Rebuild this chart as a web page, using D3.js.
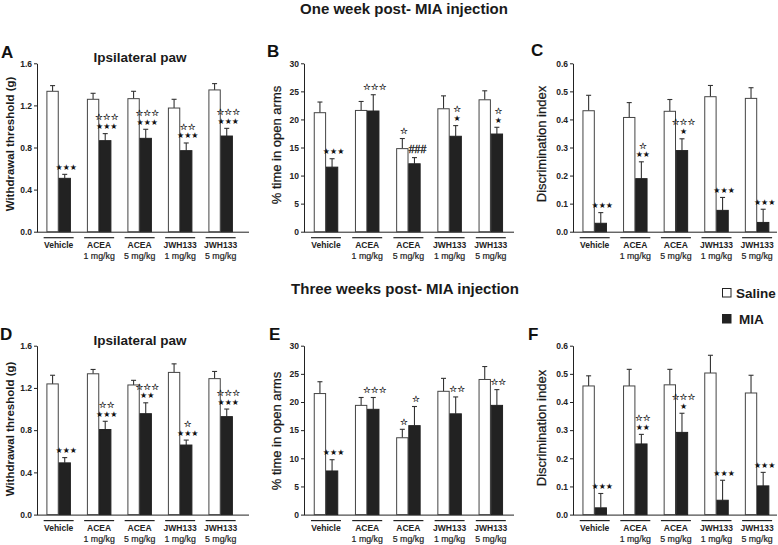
<!DOCTYPE html>
<html><head><meta charset="utf-8">
<script src="https://cdn.jsdelivr.net/npm/d3@7"></script>
<style>body{margin:0;background:#fff} svg{display:block;font-family:Arial,"Liberation Sans",sans-serif}</style>
</head><body><svg id="chart" width="778" height="545"></svg>
<script>
// ---------- data ----------
const groups = ["Vehicle","ACEA 1","ACEA 5","JWH133 1","JWH133 5"];
const groupLine1 = ["Vehicle","ACEA","ACEA","JWH133","JWH133"];
const groupLine2 = ["","1 mg/kg","5 mg/kg","1 mg/kg","5 mg/kg"];
const series = ["Saline","MIA"];
const sectionTitles = ["One week post- MIA injection","Three weeks post- MIA injection"];

// A: One week, withdrawal threshold (g)
const aSaline = [1.334,1.258,1.264,1.175,1.347];
const aSalineErr = [0.054,0.057,0.070,0.083,0.060];
const aMIA = [0.507,0.865,0.887,0.770,0.909];
const aMIAErr = [0.038,0.067,0.086,0.073,0.073];
// B: One week, % time in open arms
const bSaline = [21.2,21.6,14.8,21.9,23.5];
const bSalineErr = [1.9,1.6,1.8,2.3,1.6];
const bMIA = [11.5,21.5,12.1,17.0,17.4];
const bMIAErr = [1.5,2.9,1.1,1.9,1.2];
// C: One week, discrimination index
const cSaline = [0.431,0.407,0.429,0.481,0.475];
const cSalineErr = [0.055,0.053,0.042,0.040,0.038];
const cMIA = [0.030,0.189,0.289,0.076,0.033];
const cMIAErr = [0.038,0.060,0.042,0.046,0.047];
// D: Three weeks, withdrawal threshold (g)
const dSaline = [1.238,1.334,1.228,1.347,1.288];
const dSalineErr = [0.082,0.041,0.044,0.081,0.068];
const dMIA = [0.490,0.806,0.956,0.659,0.928];
const dMIAErr = [0.050,0.078,0.103,0.047,0.072];
// E: Three weeks, % time in open arms
const eSaline = [21.5,19.4,13.65,21.9,24.0];
const eSalineErr = [2.1,1.4,1.5,2.3,2.3];
const eMIA = [7.75,18.7,15.8,17.9,19.4];
const eMIAErr = [2.0,2.1,3.4,3.0,2.8];
// F: Three weeks, discrimination index
const fSaline = [0.457,0.457,0.461,0.503,0.432];
const fSalineErr = [0.036,0.059,0.055,0.063,0.063];
const fMIA = [0.024,0.251,0.292,0.051,0.102];
const fMIAErr = [0.051,0.034,0.068,0.071,0.048];

// tick labels
const ticksPaw = [0,0.4,0.8,1.2,1.6];
const ticksArms = [0,5,10,15,20,25,30];
const ticksDI = [0,0.1,0.2,0.3,0.4,0.5,0.6];

// significance marks (rows listed bottom to top)
const aNotes = [[0,"MIA",["★★★"]],[1,"MIA",["★★★","☆☆☆"]],[2,"MIA",["★★★","☆☆☆"]],[3,"MIA",["★★★","☆☆"]],[4,"MIA",["★★★","☆☆☆"]]];
const bNotes = [[0,"MIA",["★★★"]],[1,"MIA",["☆☆☆"]],[2,"Saline",["☆"]],[2,"MIA",["###"]],[3,"MIA",["★","☆"]],[4,"MIA",["★","☆"]]];
const cNotes = [[0,"MIA",["★★★"]],[1,"MIA",["★★","☆"]],[2,"MIA",["★","☆☆☆"]],[3,"MIA",["★★★"]],[4,"MIA",["★★★"]]];
const dNotes = [[0,"MIA",["★★★"]],[1,"MIA",["★★★","☆☆"]],[2,"MIA",["★★","☆☆☆"]],[3,"MIA",["★★★","☆"]],[4,"MIA",["★★★","☆☆☆"]]];
const eNotes = [[0,"MIA",["★★★"]],[1,"MIA",["☆☆☆"]],[2,"Saline",["☆"]],[2,"MIA",["☆"]],[3,"MIA",["☆☆"]],[4,"MIA",["☆☆"]]];
const fNotes = [[0,"MIA",["★★★"]],[1,"MIA",["★★","☆☆"]],[2,"MIA",["★","☆☆☆"]],[3,"MIA",["★★★"]],[4,"MIA",["★★★"]]];

// ---------- drawing ----------
const svg = d3.select("#chart");
svg.append("rect").attr("width",778).attr("height",545).attr("fill","#fff");

svg.append("text").attr("x",404).attr("y",13.5).attr("text-anchor","middle")
  .attr("font-size",15).attr("font-weight","bold").attr("fill","#1a1a1a").text(sectionTitles[0]);
svg.append("text").attr("x",405).attr("y",294).attr("text-anchor","middle")
  .attr("font-size",15).attr("font-weight","bold").attr("fill","#1a1a1a").text(sectionTitles[1]);

const TOP = [63.3, 231.7], BOT = [345.7, 514.6];

const panels = [
  {letter:"A", lx:1, ly:58, x0:37, step:40.5, xEnd:249, yr:TOP, max:1.6, ticks:ticksPaw, fmt:d3.format(".1f"),
   sal:aSaline, salE:aSalineErr, mia:aMIA, miaE:aMIAErr, notes:aNotes,
   ylab:"Withdrawal threshold (g)", ylx:10, yly:144, ybold:true, sub:"Ipsilateral paw", subx:140, suby:62},
  {letter:"B", lx:267, ly:56.7, x0:304, step:41.2, xEnd:514, yr:TOP, max:30, ticks:ticksArms, fmt:d3.format("d"),
   sal:bSaline, salE:bSalineErr, mia:bMIA, miaE:bMIAErr, notes:bNotes,
   ylab:"% time in open arms", ylx:276, yly:145, ybold:false},
  {letter:"C", lx:531, ly:56, x0:573, step:40.6, xEnd:777, yr:TOP, max:0.6, ticks:ticksDI, fmt:d3.format(".1f"),
   sal:cSaline, salE:cSalineErr, mia:cMIA, miaE:cMIAErr, notes:cNotes,
   ylab:"Discrimination index", ylx:541, yly:144, ybold:false},
  {letter:"D", lx:0, ly:340, x0:37, step:40.5, xEnd:249, yr:BOT, max:1.6, ticks:ticksPaw, fmt:d3.format(".1f"),
   sal:dSaline, salE:dSalineErr, mia:dMIA, miaE:dMIAErr, notes:dNotes,
   ylab:"Withdrawal threshold (g)", ylx:10, yly:429, ybold:true, sub:"Ipsilateral paw", subx:140, suby:345},
  {letter:"E", lx:269, ly:339.5, x0:304, step:41.2, xEnd:514, yr:BOT, max:30, ticks:ticksArms, fmt:d3.format("d"),
   sal:eSaline, salE:eSalineErr, mia:eMIA, miaE:eMIAErr, notes:eNotes,
   ylab:"% time in open arms", ylx:276, yly:431, ybold:false},
  {letter:"F", lx:528, ly:339.5, x0:573, step:40.6, xEnd:777, yr:BOT, max:0.6, ticks:ticksDI, fmt:d3.format(".1f"),
   sal:fSaline, salE:fSalineErr, mia:fMIA, miaE:fMIAErr, notes:fNotes,
   ylab:"Discrimination index", ylx:541, yly:428, ybold:false}
];

panels.forEach(p => {
  const g = svg.append("g");
  const y = d3.scaleLinear().domain([0,p.max]).range([p.yr[1], p.yr[0]]);
  const x = d3.scaleBand().domain(groups).range([p.x0+1.4, p.x0+1.4+5*p.step]).paddingInner(0).paddingOuter(0);
  const xs = d3.scaleBand().domain(series).range([-11.75, 11.75]).paddingInner(0.065);
  const cx = gname => x(gname) + x.bandwidth()/2;

  // letter
  g.append("text").attr("x",p.lx).attr("y",p.ly).attr("font-size",17).attr("font-weight","bold")
    .attr("fill","#111").text(p.letter);

  // y axis
  const ya = g.append("g").attr("transform",`translate(${p.x0},0)`)
    .call(d3.axisLeft(y).tickValues(p.ticks).tickFormat(p.fmt).tickSize(3).tickSizeOuter(0));
  ya.select(".domain").attr("stroke","#222");
  ya.selectAll(".tick line").attr("stroke","#222");
  ya.selectAll(".tick text").attr("font-size",8.5).attr("font-weight","bold").attr("fill","#222")
    .attr("font-family","Arial,'Liberation Sans',sans-serif").attr("x",-5);

  // x axis line
  g.append("path").attr("d",d3.line()([[p.x0,y(0)+0.5],[p.xEnd,y(0)+0.5]])).attr("stroke","#222").attr("fill","none");

  // y label
  g.append("text").attr("transform",`translate(${p.ylx},${p.yly}) rotate(-90)`).attr("text-anchor","middle")
    .attr("dominant-baseline","central").attr("font-size",p.ybold?11.5:13).attr("font-weight",p.ybold?"bold":"normal")
    .attr("fill","#1a1a1a").attr("stroke",p.ybold?"none":"#1a1a1a").attr("stroke-width",0.25).text(p.ylab);

  if (p.sub) g.append("text").attr("x",p.subx).attr("y",p.suby).attr("text-anchor","middle")
    .attr("font-size",13.5).attr("font-weight","bold").attr("fill","#1a1a1a").text(p.sub);

  // group labels and underlines
  groups.forEach((gn,i) => {
    const c = cx(gn);
    g.append("line").attr("x1",c-15).attr("x2",c+15).attr("y1",y(0)+6).attr("y2",y(0)+6).attr("stroke","#222").attr("stroke-width",1.2);
    g.append("text").attr("x",c).attr("y",y(0)+16.5).attr("text-anchor","middle").attr("font-size",8.5)
      .attr("font-weight","bold").attr("fill","#222").text(groupLine1[i]);
    if (groupLine2[i]) g.append("text").attr("x",c).attr("y",y(0)+27.5).attr("text-anchor","middle").attr("font-size",8.8)
      .attr("fill","#222").attr("stroke","#222").attr("stroke-width",0.2).text(groupLine2[i]);
  });

  // bars + error bars
  const rows = [];
  groups.forEach((gn,i) => {
    rows.push({g:gn, s:"Saline", v:p.sal[i], e:p.salE[i]});
    rows.push({g:gn, s:"MIA", v:p.mia[i], e:p.miaE[i]});
  });
  const bx = r => cx(r.g) + xs(r.s);
  rows.forEach(r => {
    const xm = bx(r) + xs.bandwidth()/2;
    g.append("line").attr("x1",xm).attr("x2",xm).attr("y1",y(r.v)).attr("y2",y(r.v+r.e)).attr("stroke","#333").attr("stroke-width",1.1);
    g.append("line").attr("x1",xm-2.5).attr("x2",xm+2.5).attr("y1",y(r.v+r.e)).attr("y2",y(r.v+r.e)).attr("stroke","#333").attr("stroke-width",1.1);
  });
  g.selectAll("rect.bar").data(rows).join("rect").attr("class","bar")
    .attr("x", r => bx(r)).attr("width", xs.bandwidth())
    .attr("y", r => y(r.v)).attr("height", r => y(0) - y(r.v))
    .attr("fill", r => r.s==="Saline" ? "#fff" : "#222")
    .attr("stroke", r => r.s==="Saline" ? "#444" : "#222").attr("stroke-width",1);

  // annotations
  p.notes.forEach(([gi, s, lines]) => {
    const r = rows.find(q => q.g===groups[gi] && q.s===s);
    const xm = bx(r) + xs.bandwidth()/2;
    const capY = y(r.v + r.e);
    lines.forEach((txt, k) => {
      const isHash = txt.startsWith("#");
      const hollow = txt.startsWith("☆");
      g.append("text").attr("x", xm + (isHash?3:1.5)).attr("y", capY - 4.5 - k*8.8)
        .attr("text-anchor","middle")
        .attr("font-family", isHash ? "Arial,'Liberation Sans',sans-serif" : "'DejaVu Sans',sans-serif")
        .attr("font-size", isHash ? 10.5 : (hollow ? 8.8 : 8)).attr("fill","#111")
        .attr("stroke", (hollow||isHash) ? "#111" : "none").attr("stroke-width", hollow ? 0.18 : 0.3)
        .text(txt);
    });
  });
});

// legend
const leg = svg.append("g");
const legColors = {"Saline":"#fff","MIA":"#222"};
series.forEach((s,i) => {
  const yy = 288.5 + i*26;
  leg.append("rect").attr("x",722.5).attr("y",yy).attr("width",8.5).attr("height",8.5)
    .attr("fill",legColors[s]).attr("stroke","#222").attr("stroke-width",1);
  leg.append("text").attr("x", i===0?736:739).attr("y",yy+9).attr("font-size",13.5).attr("font-weight","bold")
    .attr("fill","#1a1a1a").text(s);
});
</script></body></html>
